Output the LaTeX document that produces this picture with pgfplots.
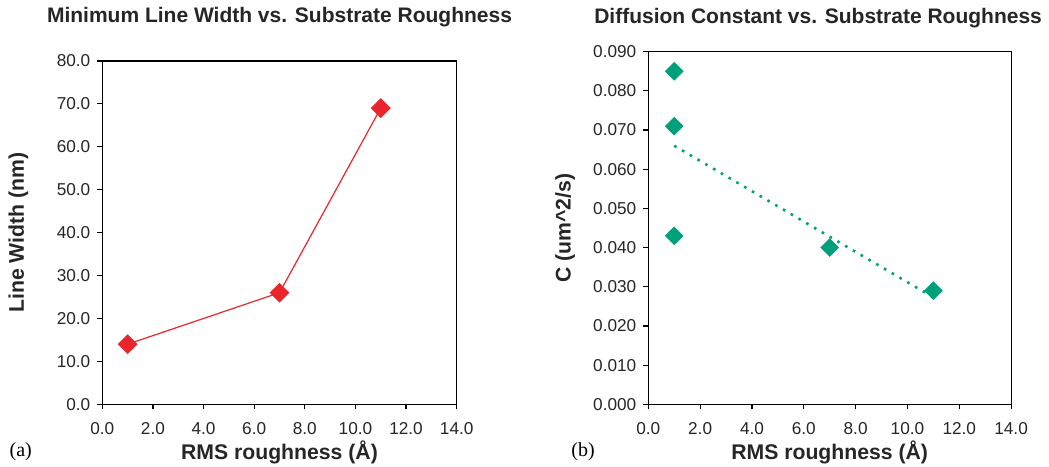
\documentclass[border=0pt]{standalone}
\usepackage{fontspec}
\setmainfont{Liberation Sans}
\newfontfamily\serifab{Liberation Serif}
\usepackage{pgfplots}
\pgfplotsset{compat=1.18}
\definecolor{exred}{RGB}{232,38,43}
\definecolor{exgreen}{RGB}{0,160,122}
\newcommand{\labfont}{\fontsize{10.6}{12}\selectfont\bfseries}
\begin{document}
\begin{tikzpicture}
\useasboundingbox (0,0) rectangle (524.5pt,233pt);
\pgfplotsset{
  every axis/.append style={
    scale only axis,
    anchor=south west,
    clip=false,
    axis line style={black, line width=0.6pt},
    tick style={black, line width=0.6pt},
    tick align=outside,
    major tick length=2.5pt,
    xtick pos=bottom, ytick pos=left,
    scaled ticks=false,
    /pgf/number format/assume math mode=true,
    tick label style={font=\fontsize{8.6}{10}\selectfont, color=black!85},
    xticklabel style={yshift=-3pt},
    xmin=0, xmax=14, xtick={0,2,...,14},
    xticklabel={\pgfmathprintnumber[fixed,fixed zerofill,precision=1]{\tick}},
    xlabel={RMS roughness (Å)},
    every axis x label/.style={at={(axis description cs:0.5,0)}, anchor=center, yshift=-24pt, font=\labfont, color=black!85},
  }
}
\begin{axis}[
  at={(51.15pt,30.85pt)}, width=177.2pt, height=171.7pt,
  ymin=0, ymax=80, ytick={0,10,...,80},
  yticklabel={\pgfmathprintnumber[fixed,fixed zerofill,precision=1]{\tick}},
  ylabel={Line Width (nm)},
  every axis y label/.style={at={(axis description cs:-0.237,0.5)}, rotate=90, anchor=center, font=\labfont, color=black!85},
  title={Minimum Line Width vs. Substrate Roughness},
  every axis title/.style={at={(axis description cs:0.5,1.128)}, anchor=center, font=\fontsize{10.5}{12}\selectfont\bfseries, color=black!85},
]
\addplot[exred, line width=0.6pt, mark=square*, mark size=3.2pt, mark options={rotate=45, solid}]
  coordinates {(1,14) (7,26) (11,69)};
\node[font=\serifab\fontsize{10}{12}\selectfont, anchor=center] at (axis description cs:-0.23,-0.138) {(a)};
\end{axis}
\begin{axis}[
  at={(324.15pt,30.85pt)}, width=181.4pt, height=176.3pt,
  ymin=0, ymax=0.09, ytick={0,0.01,...,0.09},
  yticklabel={\pgfmathprintnumber[fixed,fixed zerofill,precision=3]{\tick}},
  ylabel={C (um\^{}2/s)},
  every axis y label/.style={at={(axis description cs:-0.229,0.5)}, rotate=90, anchor=center, font=\labfont, color=black!85},
  title={Diffusion Constant vs. Substrate Roughness},
  every axis title/.style={at={(axis description cs:0.468,1.0956)}, anchor=center, font=\fontsize{10.5}{12}\selectfont\bfseries, color=black!85},
]
\addplot[exgreen, line width=1.3pt, dash pattern=on 1.3pt off 3.2pt]
  coordinates {(1,0.0660) (11,0.0273)};
\addplot[only marks, exgreen, mark=square*, mark size=3.1pt, mark options={rotate=45, solid}]
  coordinates {(1,0.085) (1,0.071) (1,0.043) (7,0.040) (11,0.029)};
\node[font=\serifab\fontsize{10}{12}\selectfont, anchor=center] at (axis description cs:-0.18,-0.135) {(b)};
\end{axis}
\end{tikzpicture}
\end{document}
